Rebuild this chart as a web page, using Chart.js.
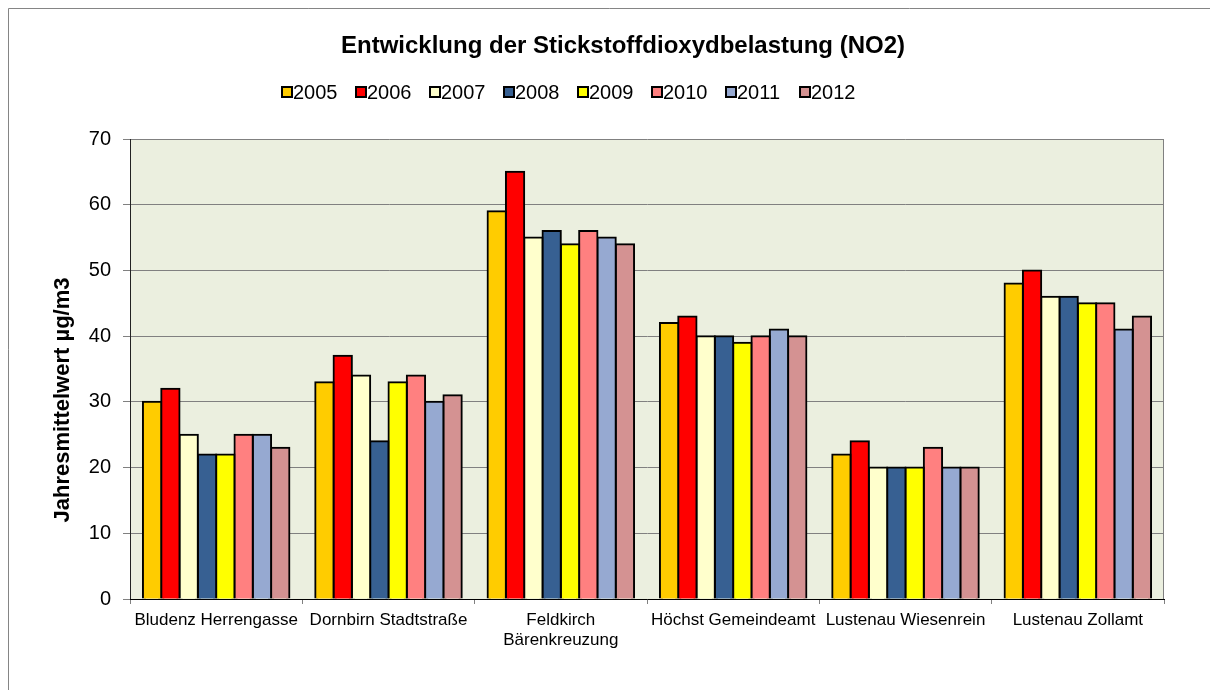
<!DOCTYPE html>
<html>
<head>
<meta charset="utf-8">
<title>NO2 Jahresmittelwerte</title>
<script src="https://cdn.jsdelivr.net/npm/chart.js@4/dist/chart.umd.min.js"></script>
<style>
  html, body { margin: 0; padding: 0; background: #fff; }
  #wrap { width: 1210px; height: 690px; }
</style>
</head>
<body>
<div id="wrap"><canvas id="no2Chart" width="1210" height="690"></canvas></div>
<script>
// Daten
const chartTitle = "Entwicklung der Stickstoffdioxydbelastung (NO2)";
const axisTitle = "Jahresmittelwert µg/m3";
const stations = [
  "Bludenz Herrengasse",
  "Dornbirn Stadtstraße",
  ["Feldkirch", "Bärenkreuzung"],
  "Höchst Gemeindeamt",
  "Lustenau Wiesenrein",
  "Lustenau Zollamt"
];
const years = ["2005", "2006", "2007", "2008", "2009", "2010", "2011", "2012"];
const no2_2005 = [30, 33, 59, 42, 22, 48];
const no2_2006 = [32, 37, 65, 43, 24, 50];
const no2_2007 = [25, 34, 55, 40, 20, 46];
const no2_2008 = [22, 24, 56, 40, 20, 46];
const no2_2009 = [22, 33, 54, 39, 20, 45];
const no2_2010 = [25, 34, 56, 40, 23, 45];
const no2_2011 = [25, 30, 55, 41, 20, 41];
const no2_2012 = [23, 31, 54, 40, 20, 43];
const yMin = 0, yMax = 70, yStep = 10;

const series = [no2_2005, no2_2006, no2_2007, no2_2008, no2_2009, no2_2010, no2_2011, no2_2012];
const barColors = ["#FFCC00", "#FF0000", "#FFFFCC", "#376092", "#FFFF00", "#FF8080", "#96A9D1", "#D49292"];
const FONT = "'Liberation Sans', Arial, Helvetica, sans-serif";

// Rahmen, Hintergrund, Titel, Legende, Achsentitel
const frame = {
  id: "frame",
  beforeDraw(chart) {
    const { ctx, chartArea: a, width, height } = chart;
    ctx.save();
    ctx.fillStyle = "#fff";
    ctx.fillRect(0, 0, width, height);
    ctx.strokeStyle = "#858585";
    ctx.lineWidth = 1;
    ctx.beginPath();
    ctx.moveTo(8.5, height);
    ctx.lineTo(8.5, 8.5);
    ctx.lineTo(width, 8.5);
    ctx.stroke();
    ctx.fillStyle = "#EBEFDF";
    ctx.fillRect(a.left, a.top, a.right - a.left, a.bottom - a.top);
    ctx.restore();
  },
  afterDraw(chart) {
    const { ctx, chartArea: a } = chart;
    ctx.save();
    // rechte Kante der Zeichenfläche
    ctx.strokeStyle = "#808080";
    ctx.lineWidth = 1;
    ctx.beginPath();
    ctx.moveTo(Math.round(a.right) - 0.5, a.top);
    ctx.lineTo(Math.round(a.right) - 0.5, a.bottom);
    ctx.stroke();

    // Titel
    ctx.fillStyle = "#000";
    ctx.font = "bold 24px " + FONT;
    ctx.textAlign = "center";
    ctx.textBaseline = "middle";
    ctx.fillText(chartTitle, 623, 46);

    // Legende
    ctx.font = "20px " + FONT;
    ctx.textAlign = "left";
    chart.data.datasets.forEach((ds, i) => {
      const x = 282 + i * 74;
      ctx.fillStyle = ds.backgroundColor;
      ctx.fillRect(x, 87, 10, 10);
      ctx.strokeStyle = "#000";
      ctx.lineWidth = 2;
      ctx.strokeRect(x, 87, 10, 10);
      ctx.fillStyle = "#000";
      ctx.fillText(ds.label, x + 11, 93);
    });

    // Y-Achsentitel
    ctx.translate(63, 400);
    ctx.rotate(-Math.PI / 2);
    ctx.font = "bold 22px " + FONT;
    ctx.textAlign = "center";
    ctx.fillText(axisTitle, 0, 0);
    ctx.restore();
  }
};

const ctx = document.getElementById("no2Chart");
new Chart(ctx, {
  type: "bar",
  data: {
    labels: stations,
    datasets: years.map((y, i) => ({
      label: y,
      data: series[i],
      backgroundColor: barColors[i],
      borderColor: "#000",
      borderWidth: 2,
      borderSkipped: "start",
      inflateAmount: 1,
      categoryPercentage: 0.85,
      barPercentage: 1.0
    }))
  },
  options: {
    responsive: false,
    animation: false,
    layout: { padding: { left: 0, top: 139, right: 46, bottom: 0 } },
    plugins: {
      legend: { display: false },
      title: { display: false },
      tooltip: { enabled: false }
    },
    scales: {
      x: {
        afterFit: (s) => { s.height = 91; },
        grid: { drawOnChartArea: false, drawTicks: true, tickLength: 5, color: "#808080", offset: true },
        border: { color: "#000", width: 1, z: 1 },
        ticks: {
          color: "#000",
          font: { family: FONT, size: 17, lineHeight: 1.2 },
          padding: 6,
          maxRotation: 0,
          autoSkip: false
        }
      },
      y: {
        min: yMin,
        max: yMax,
        afterFit: (s) => { s.width = 130; },
        grid: { color: "#808080", tickLength: 7, drawTicks: true },
        border: { color: "#222", width: 1 },
        ticks: {
          stepSize: yStep,
          color: "#000",
          font: { family: FONT, size: 20 },
          padding: 12
        }
      }
    }
  },
  plugins: [frame]
});
</script>
</body>
</html>
